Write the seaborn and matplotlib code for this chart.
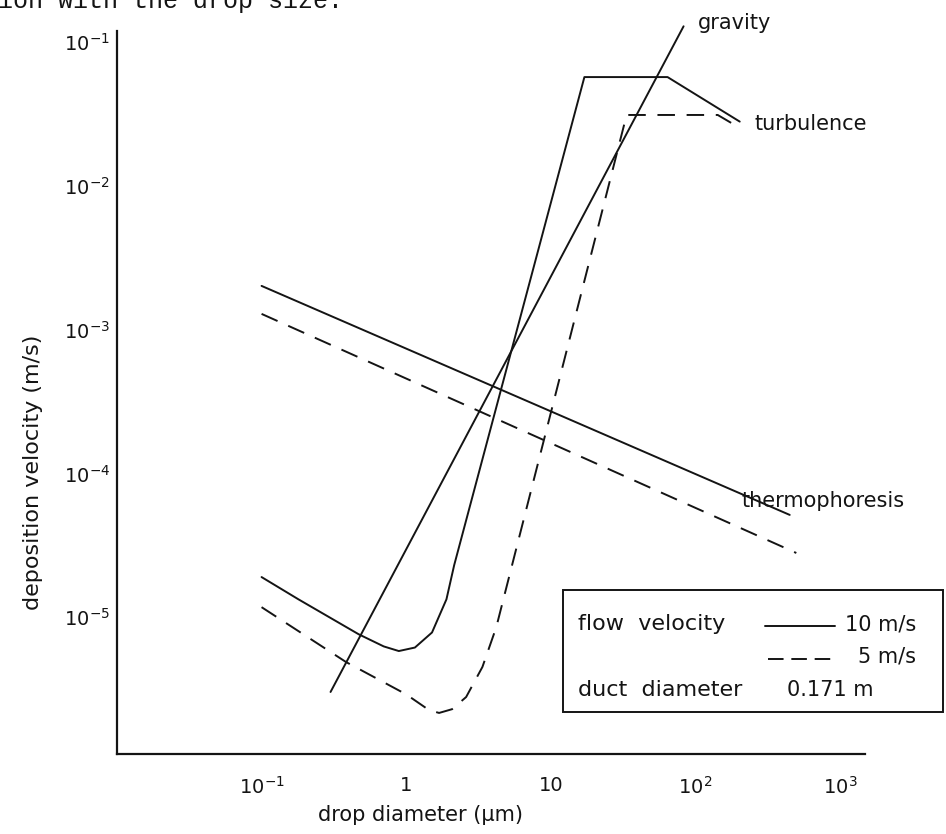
import numpy as np
import pandas as pd
import matplotlib
matplotlib.use("Agg")
import matplotlib.pyplot as plt
import matplotlib.transforms as mtransforms
from matplotlib.patches import Rectangle
from matplotlib.lines import Line2D
import seaborn as sns

# ---- data: drop diameter (um) vs deposition velocity (m/s) ----
gravity_d = [0.30, 83.0]
gravity_v = [2.7e-6, 0.115]

thermo_10_d = [0.1, 450.0]
thermo_10_v = [1.8e-3, 4.6e-5]
thermo_5_d = [0.1, 500.0]
thermo_5_v = [1.15e-3, 2.5e-5]

total_10_d = [0.1, 0.18, 0.47, 0.70, 0.89, 1.15, 1.51, 1.9, 2.15, 17.1, 64.3, 203.0]
total_10_v = [1.7e-5, 1.19e-5, 6.8e-6, 5.6e-6, 5.2e-6, 5.5e-6, 7.0e-6, 1.19e-5, 2.06e-5, 0.051, 0.051, 0.025]

total_5_d = [0.1, 0.384, 1.0, 1.44, 1.69, 2.08, 2.6, 3.37, 4.2, 33.5, 143.0, 203.0]
total_5_v = [1.05e-5, 4.36e-6, 2.6e-6, 2.02e-6, 1.93e-6, 2.05e-6, 2.49e-6, 4.03e-6, 7.6e-6, 0.0278, 0.0278, 0.0226]

x_ticks = [0.1, 1, 10, 100, 1000]
x_ticklabels = ["$10^{-1}$", "1", "10", "$10^{2}$", "$10^{3}$"]
y_ticks = [1e-5, 1e-4, 1e-3, 1e-2, 1e-1]
y_ticklabels = ["$10^{-5}$", "$10^{-4}$", "$10^{-3}$", "$10^{-2}$", "$10^{-1}$"]

sns.set_theme(style="white")
plt.rcParams["font.family"] = ["DejaVu Sans"]
plt.rcParams["mathtext.fontset"] = "dejavusans"

W, H = 946, 834
fig = plt.figure(figsize=(W / 100, H / 100), dpi=100)
ax = fig.add_axes([117 / W, 1 - 754 / H, (865 - 117) / W, (754 - 31) / H])

INK = "#141414"
LW = 1.4
DASH = (9, 6)


def frame(d, v, name):
    return pd.DataFrame({"d": d, "v": v, "series": name})


def draw(d, v, name, dashed=False):
    sns.lineplot(data=frame(d, v, name), x="d", y="v", ax=ax, sort=False,
                 estimator=None, color=INK, lw=LW, legend=False,
                 dashes=False, clip_on=False)
    line = ax.get_lines()[-1]
    if dashed:
        line.set_dashes(DASH)
    return line


draw(gravity_d, gravity_v, "gravity")
draw(thermo_10_d, thermo_10_v, "thermophoresis 10")
draw(thermo_5_d, thermo_5_v, "thermophoresis 5", dashed=True)
draw(total_10_d, total_10_v, "total 10")
draw(total_5_d, total_5_v, "total 5", dashed=True)

ax.set_xscale("log")
ax.set_yscale("log")
ax.set_xlim(10 ** -2.0, 10 ** 3.174)
ax.set_ylim(1e-6, 10 ** -0.972)

sns.despine(ax=ax)
for s in ("left", "bottom"):
    ax.spines[s].set_color(INK)
    ax.spines[s].set_linewidth(1.6)

ax.set_xticks(x_ticks)
ax.set_xticklabels(x_ticklabels)
ax.set_yticks(y_ticks)
ax.set_yticklabels(y_ticklabels)
ax.minorticks_off()
ax.tick_params(axis="both", which="major", direction="in", length=8,
               width=1.3, color=INK, labelcolor=INK, labelsize=14)
ax.tick_params(axis="x", pad=16)
ax.tick_params(axis="y", pad=5)
shift = mtransforms.ScaledTranslation(0, -7 / 100, fig.dpi_scale_trans)
for lab in ax.get_yticklabels():
    lab.set_transform(lab.get_transform() + shift)

ax.set_xlabel("drop diameter (\u00b5m)", fontsize=15, color=INK)
ax.xaxis.set_label_coords(0.406, -0.070)
ax.set_ylabel("deposition velocity (m/s)", fontsize=16, color=INK)
ax.yaxis.set_label_coords(-0.099, 0.39)

# curve labels
lab_fs = 15
ax.annotate("gravity", xy=(gravity_d[-1], gravity_v[-1]), xytext=(14, 3),
            textcoords="offset pixels", fontsize=lab_fs, color=INK,
            va="center", ha="left", annotation_clip=False)
ax.annotate("turbulence", xy=(total_10_d[-1], total_10_v[-1]), xytext=(15, -2),
            textcoords="offset pixels", fontsize=lab_fs, color=INK,
            va="center", ha="left", annotation_clip=False)
ax.annotate("thermophoresis", xy=(thermo_10_d[-1], thermo_10_v[-1]),
            xytext=(-48, 14), textcoords="offset pixels", fontsize=lab_fs,
            color=INK, va="center", ha="left", annotation_clip=False)


# legend box drawn in pixel positions of the figure
def fx(x):
    return x / W


def fy(y):
    return 1 - y / H


box = Rectangle((fx(563), fy(712)), fx(943) - fx(563), (712 - 590) / H,
                transform=fig.transFigure, fill=True, facecolor="white",
                edgecolor=INK, lw=1.4, zorder=5)
fig.patches.append(box)
fs = 16
fig.text(fx(578), fy(624), "flow  velocity", fontsize=fs, color=INK,
         va="center", ha="left", zorder=6)
fig.lines.append(Line2D([fx(765), fx(835)], [fy(626), fy(626)],
                        transform=fig.transFigure, color=INK, lw=LW, zorder=6))
fig.text(fx(845), fy(624), "10 m/s", fontsize=15, color=INK,
         va="center", ha="left", zorder=6)
fig.lines.append(Line2D([fx(768), fx(837)], [fy(659), fy(659)],
                        transform=fig.transFigure, color=INK, lw=LW,
                        dashes=(8, 4), zorder=6))
fig.text(fx(858), fy(657), "5 m/s", fontsize=15, color=INK,
         va="center", ha="left", zorder=6)
fig.text(fx(578), fy(690), "duct  diameter", fontsize=fs, color=INK,
         va="center", ha="left", zorder=6)
fig.text(fx(787), fy(690), "0.171 m", fontsize=15, color=INK,
         va="center", ha="left", zorder=6)

# running text above the figure
fig.text(-2 / W, fy(8), "ion with the drop size.", family="Liberation Mono",
         fontsize=18, color=INK, va="baseline", ha="left")

fig.savefig("out.png", dpi=100, facecolor="white")
